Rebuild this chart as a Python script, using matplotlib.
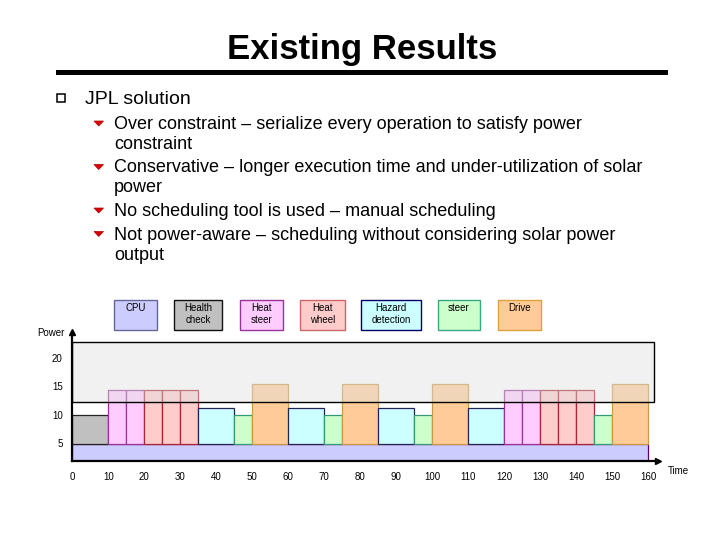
import matplotlib
matplotlib.use("Agg")
import matplotlib.pyplot as plt
from matplotlib.patches import Rectangle, Polygon
from matplotlib.lines import Line2D

plt.rcParams['font.family'] = ['Liberation Sans', 'DejaVu Sans']

# ---- slide text ----
title = "Existing Results"
heading = "JPL solution"
bullets = [
    ["Over constraint \u2013 serialize every operation to satisfy power", "constraint"],
    ["Conservative \u2013 longer execution time and under-utilization of solar", "power"],
    ["No scheduling tool is used \u2013 manual scheduling"],
    ["Not power-aware \u2013 scheduling without considering solar power", "output"],
]

# ---- tasks (power stacked on top of the CPU base load) ----
tasks = ["CPU", "Health check", "Heat steer", "Heat wheel", "Hazard detection", "steer", "Drive"]
legend_labels = ["CPU", "Health\ncheck", "Heat\nsteer", "Heat\nwheel", "Hazard\ndetection", "steer", "Drive"]
task_power = [4.8, 5.2, 9.5, 9.5, 6.3, 5.2, 10.6]
fills = ["#ccccff", "#c0c0c0", "#ffccff", "#ffcccc", "#ccffff", "#ccffcc", "#ffcc99"]
edges = ["#660066", "#222222", "#993399", "#aa2233", "#222255", "#339977", "#cc9944"]
legend_edges = ["#666699", "#111111", "#993399", "#cc6666", "#000066", "#33aa88", "#e0a040"]

# ---- manual schedule ----
sched_task = ["Health check", "Heat steer", "Heat steer", "Heat wheel", "Heat wheel", "Heat wheel",
              "Hazard detection", "steer", "Drive", "Hazard detection", "steer", "Drive",
              "Hazard detection", "steer", "Drive", "Hazard detection", "Heat steer", "Heat steer",
              "Heat wheel", "Heat wheel", "Heat wheel", "steer", "Drive"]
sched_start = [0, 10, 15, 20, 25, 30, 35, 45, 50, 60, 70, 75, 85, 95, 100, 110, 120, 125, 130, 135, 140, 145, 150]
sched_len = [10, 5, 5, 5, 5, 5, 10, 5, 10, 10, 5, 10, 10, 5, 10, 10, 5, 5, 5, 5, 5, 5, 10]

cpu_end = 160
limit_low, limit_high, limit_end = 12.2, 22.8, 161.6
xticks = list(range(0, 161, 10))
yticks = [5, 10, 15, 20]

W, H = 720, 540
fig = plt.figure(figsize=(7.2, 5.4), dpi=100)


def fx(x):
    return x / W


def fy(y):
    return 1 - y / H


# title + rule
fig.text(fx(362), fy(59), title, fontsize=25, fontweight='bold', ha='center', va='baseline')
fig.add_artist(Line2D([fx(58), fx(665)], [fy(71.5), fy(71.5)], color='black', lw=3.6))

# heading with square bullet
fig.add_artist(Rectangle((fx(57), fy(102)), 8 / W, 8.5 / H, facecolor='white', edgecolor='black', lw=1.1))
fig.text(fx(85), fy(104), heading, fontsize=14, va='baseline')

# sub bullets
y = 129
for para in bullets:
    fig.add_artist(Polygon([(fx(94), fy(y - 8)), (fx(103.5), fy(y - 8)), (fx(98.7), fy(y - 3))],
                           closed=True, facecolor='#d80000', edgecolor='#b00000', lw=0.5))
    for line in para:
        fig.text(fx(114), fy(y), line, fontsize=13, va='baseline')
        y += 20
    y += 3.5

# legend boxes
box_x = [(114, 157), (174, 222), (240, 283), (300, 345), (361, 421), (438, 480), (498, 541)]
for (x0, x1), lab, fc, ec in zip(box_x, legend_labels, fills, legend_edges):
    fig.add_artist(Rectangle((fx(x0), fy(330)), (x1 - x0) / W, 30 / H, facecolor=fc, edgecolor=ec, lw=1))
    fig.text(fx((x0 + x1) / 2), fy(303), lab, fontsize=7, ha='center', va='top', linespacing=1.2)

# ---- power chart ----
ax = fig.add_axes([fx(72.4), fy(461.3), (658 - 72.4) / W, (461.3 - 331.7) / H])
ax.set_xlim(0, 162.7)
ax.set_ylim(1.72, 24.7)

# CPU base load across the whole run
ax.bar(0, task_power[0], width=cpu_end, bottom=0, align='edge',
       color=fills[0], edgecolor=edges[0], lw=0.9, zorder=2)

for name, s, d in zip(sched_task, sched_start, sched_len):
    i = tasks.index(name)
    ax.bar(s, task_power[i], width=d, bottom=task_power[0], align='edge',
           color=fills[i], edgecolor=edges[i], lw=0.9, zorder=2)

# power limit band, washes out the parts of tasks above it
ax.add_patch(Rectangle((0, limit_low), limit_end, limit_high - limit_low,
                       facecolor=(0.88, 0.88, 0.88, 0.45), edgecolor='none', zorder=3))
ax.add_patch(Rectangle((0, limit_low), limit_end, limit_high - limit_low,
                       facecolor='none', edgecolor='black', lw=1.0, zorder=4))

for side in ['top', 'right']:
    ax.spines[side].set_visible(False)
for side in ['left', 'bottom']:
    ax.spines[side].set_linewidth(1.6)
    ax.spines[side].set_zorder(5)
ax.plot(1, 0, '>', color='black', ms=5, transform=ax.transAxes, clip_on=False, zorder=6)
ax.plot(0, 1, '^', color='black', ms=5, transform=ax.transAxes, clip_on=False, zorder=6)

ax.set_xticks(xticks)
ax.set_yticks(yticks)
ax.tick_params(length=0, labelsize=7)
ax.tick_params(axis='x', pad=8)
ax.tick_params(axis='y', pad=7)

fig.text(fx(51), fy(333), "Power", fontsize=7, ha='center', va='center')
fig.text(fx(678), fy(471), "Time", fontsize=7, ha='center', va='center')

fig.savefig("out.png", dpi=100)
